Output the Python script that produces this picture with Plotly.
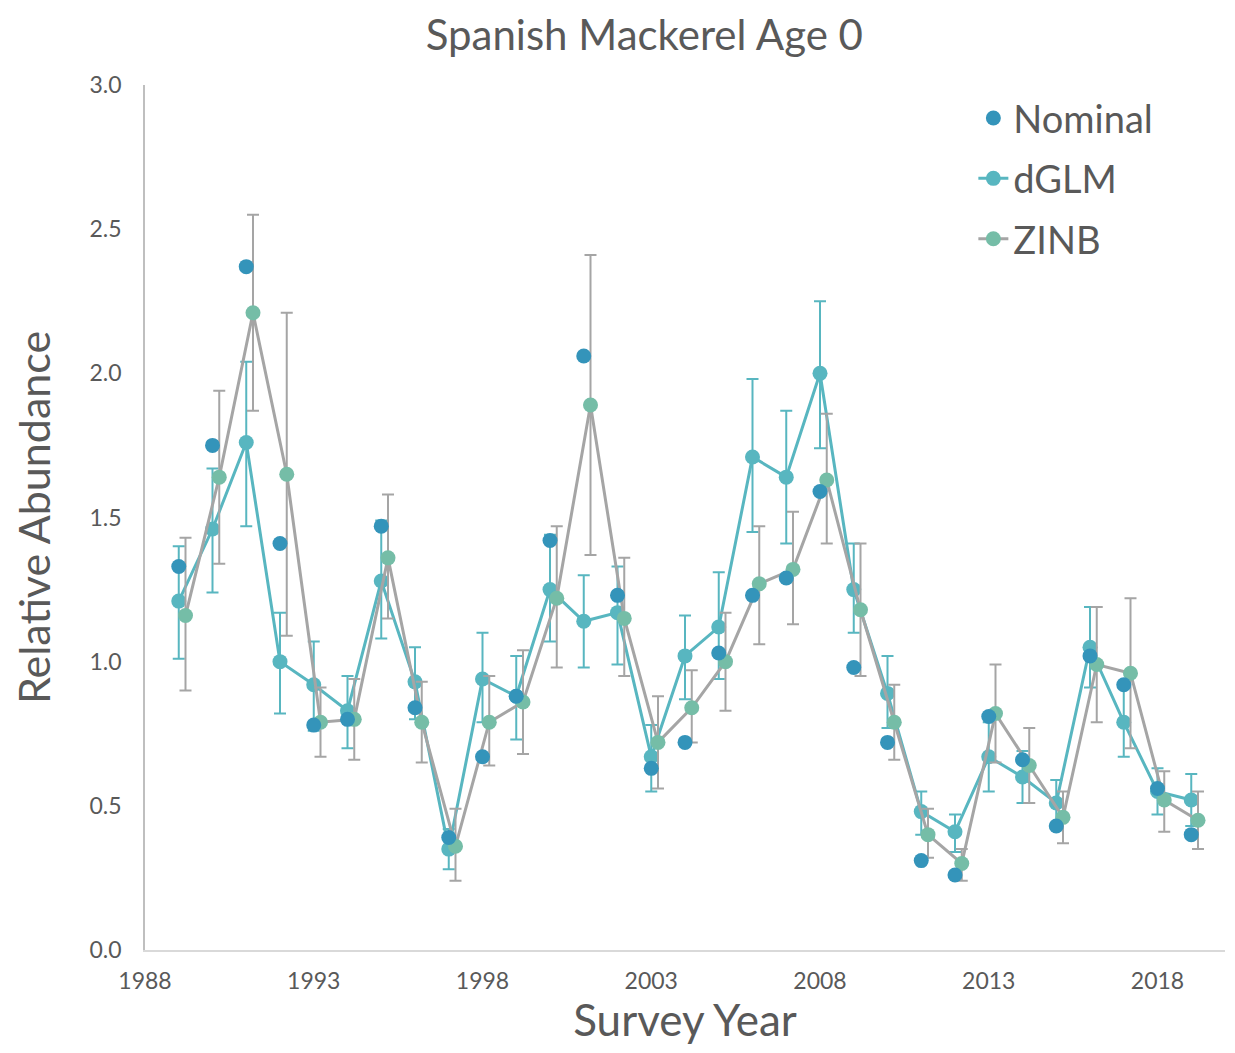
import plotly.graph_objects as go

years = list(range(1989, 2020))

nominal = [1.33, 1.75, 2.37, 1.41, 0.78, 0.80, 1.47, 0.84, 0.39, 0.67, 0.88, 1.42, 2.06, 1.23, 0.63,
           0.72, 1.03, 1.23, 1.29, 1.59, 0.98, 0.72, 0.31, 0.26, 0.81, 0.66, 0.43, 1.02, 0.92, 0.56, 0.40]

dglm = [1.21, 1.46, 1.76, 1.00, 0.92, 0.83, 1.28, 0.93, 0.35, 0.94, 0.88, 1.25, 1.14, 1.17, 0.67,
        1.02, 1.12, 1.71, 1.64, 2.00, 1.25, 0.89, 0.48, 0.41, 0.67, 0.60, 0.51, 1.05, 0.79, 0.55, 0.52]
dglm_hi = [1.40, 1.67, 2.04, 1.17, 1.07, 0.95, 1.49, 1.05, 0.42, 1.10, 1.02, 1.44, 1.30, 1.33, 0.78,
           1.16, 1.31, 1.98, 1.87, 2.25, 1.41, 1.02, 0.55, 0.47, 0.79, 0.69, 0.59, 1.19, 0.92, 0.63, 0.61]
dglm_lo = [1.01, 1.24, 1.47, 0.82, 0.76, 0.70, 1.08, 0.80, 0.28, 0.79, 0.73, 1.07, 0.98, 0.99, 0.55,
           0.87, 0.94, 1.45, 1.41, 1.74, 1.10, 0.77, 0.40, 0.34, 0.55, 0.51, 0.43, 0.91, 0.67, 0.47, 0.43]

zinb = [1.16, 1.64, 2.21, 1.65, 0.79, 0.80, 1.36, 0.79, 0.36, 0.79, 0.86, 1.22, 1.89, 1.15, 0.72,
        0.84, 1.00, 1.27, 1.32, 1.63, 1.18, 0.79, 0.40, 0.30, 0.82, 0.64, 0.46, 0.99, 0.96, 0.52, 0.45]
zinb_hi = [1.43, 1.94, 2.55, 2.21, 0.91, 0.94, 1.58, 0.93, 0.49, 0.95, 1.04, 1.47, 2.41, 1.36, 0.88,
           0.97, 1.17, 1.47, 1.52, 1.86, 1.41, 0.92, 0.49, 0.35, 0.99, 0.77, 0.55, 1.19, 1.22, 0.62, 0.55]
zinb_lo = [0.90, 1.34, 1.87, 1.09, 0.67, 0.66, 1.15, 0.65, 0.24, 0.64, 0.68, 0.98, 1.37, 0.95, 0.56,
           0.72, 0.83, 1.06, 1.13, 1.41, 0.95, 0.66, 0.32, 0.24, 0.65, 0.51, 0.37, 0.79, 0.70, 0.41, 0.35]

x_ticks = [1988, 1993, 1998, 2003, 2008, 2013, 2018]
y_ticks = [0.0, 0.5, 1.0, 1.5, 2.0, 2.5, 3.0]

C_NOM = "#3494BA"
C_DGLM = "#58B6C0"
C_ZINB = "#75BDA7"
C_GRAY = "#A5A5A5"
TXT = "#595959"
FONT = "Lato, 'Open Sans', sans-serif"

zinb_x = [y + 0.2 for y in years]

fig = go.Figure()

fig.add_trace(go.Scatter(
    x=years, y=dglm, name="dGLM", mode="lines+markers", legendrank=2, legendgroup="b",
    line=dict(color=C_DGLM, width=3),
    marker=dict(color=C_DGLM, size=15),
    error_y=dict(type="data", symmetric=False,
                 array=[h - v for h, v in zip(dglm_hi, dglm)],
                 arrayminus=[v - l for v, l in zip(dglm, dglm_lo)],
                 color=C_DGLM, thickness=2, width=6),
))
fig.add_trace(go.Scatter(
    x=zinb_x, y=zinb, name="ZINB", mode="lines+markers", legendrank=3, legendgroup="c",
    line=dict(color=C_GRAY, width=3),
    marker=dict(color=C_ZINB, size=15),
    error_y=dict(type="data", symmetric=False,
                 array=[h - v for h, v in zip(zinb_hi, zinb)],
                 arrayminus=[v - l for v, l in zip(zinb, zinb_lo)],
                 color=C_GRAY, thickness=2, width=6),
))
fig.add_trace(go.Scatter(
    x=years, y=nominal, name="Nominal", mode="markers", legendrank=1, legendgroup="a",
    marker=dict(color=C_NOM, size=15),
))

fig.update_layout(
    width=1219, height=1037,
    paper_bgcolor="white", plot_bgcolor="white",
    margin=dict(l=137, r=2, t=77, b=95),
    font=dict(family=FONT, color=TXT),
    title=dict(text="Spanish Mackerel Age 0", x=0.522, xanchor="center", y=0.974, yanchor="middle",
               font=dict(size=42, color=TXT, family=FONT)),
    showlegend=True,
    legend=dict(x=0.767, y=0.998, xanchor="left", yanchor="top", bgcolor="rgba(0,0,0,0)",
                font=dict(size=38, color=TXT, family=FONT), tracegroupgap=8,
                traceorder="grouped"),
    xaxis=dict(range=[1988, 2020], tickvals=x_ticks, ticktext=[str(t) for t in x_ticks],
               showgrid=False, zeroline=False, showline=True, linecolor="#D9D9D9", linewidth=1.5,
               ticks="", tickfont=dict(size=23, color=TXT), ticklabelstandoff=10, automargin=False,
               title=dict(text="Survey Year", font=dict(size=44, color=TXT), standoff=30)),
    yaxis=dict(range=[0, 3.0], tickvals=y_ticks, ticktext=[f"{t:.1f}" for t in y_ticks],
               showgrid=False, zeroline=False, showline=True, linecolor="#BFBFBF", linewidth=1.5,
               ticks="", tickfont=dict(size=23, color=TXT), ticklabelstandoff=17, automargin=False,
               title=dict(text="Relative Abundance", font=dict(size=43, color=TXT), standoff=33)),
)

fig.write_html("out.html")
